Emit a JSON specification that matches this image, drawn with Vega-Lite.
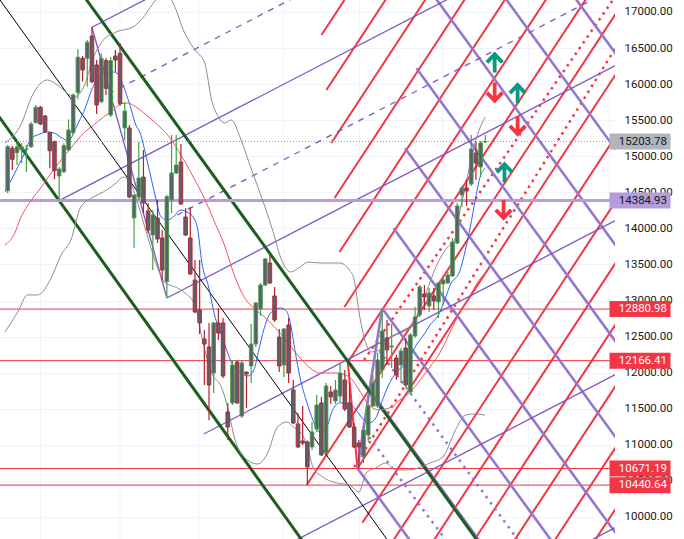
{
"$schema":"https://vega.github.io/schema/vega-lite/v6.json",
"width":615,"height":539,
"autosize":{"type":"none"},
"padding":{"left":0,"top":0,"right":69,"bottom":0},
"background":"#ffffff",
"config":{"view":{"stroke":null},"axisY":{"orient":"right"}},
"datasets":{
"candles":[
{"t":0,"o":14522,"h":15156,"l":14486,"c":15132},{"t":1,"o":15110,"h":15142,"l":14809,"c":14958},{"t":2,"o":15049,"h":15188,"l":14879,"c":15132},{"t":3,"o":15087,"h":15184,"l":14906,"c":15128},{"t":4,"o":15094,"h":15156,"l":14782,"c":15101},{"t":5,"o":15132,"h":15479,"l":15114,"c":15447},{"t":6,"o":15465,"h":15710,"l":15457,"c":15679},{"t":7,"o":15679,"h":15697,"l":15433,"c":15447},{"t":8,"o":15558,"h":15572,"l":15322,"c":15340},{"t":9,"o":15326,"h":15340,"l":14833,"c":15077},
{"t":10,"o":15202,"h":15216,"l":14680,"c":14800},{"t":11,"o":14726,"h":14855,"l":14385,"c":14823},{"t":12,"o":14786,"h":15180,"l":14764,"c":15146},{"t":13,"o":15087,"h":15512,"l":15077,"c":15364},{"t":14,"o":15326,"h":15873,"l":15295,"c":15849},{"t":15,"o":15881,"h":16483,"l":15790,"c":16372},{"t":16,"o":16358,"h":16390,"l":16033,"c":16196},{"t":17,"o":16358,"h":16611,"l":15964,"c":16580},{"t":18,"o":16667,"h":16788,"l":16011,"c":16033},{"t":19,"o":16265,"h":16334,"l":15586,"c":15710},
{"t":20,"o":15756,"h":16427,"l":15734,"c":16358},{"t":21,"o":16325,"h":16358,"l":15849,"c":15942},{"t":22,"o":15572,"h":16376,"l":15544,"c":16325},{"t":23,"o":16390,"h":16473,"l":16172,"c":16334},{"t":24,"o":16427,"h":16566,"l":15697,"c":15734},{"t":25,"o":15392,"h":15752,"l":15225,"c":15627},{"t":26,"o":15392,"h":15433,"l":14417,"c":14435},{"t":27,"o":14144,"h":14463,"l":13728,"c":14463},{"t":28,"o":14435,"h":15198,"l":14394,"c":14699},{"t":29,"o":14712,"h":15087,"l":14213,"c":14352},
{"t":30,"o":14241,"h":14352,"l":13936,"c":13978},{"t":31,"o":13908,"h":14255,"l":13423,"c":14186},{"t":32,"o":14144,"h":14394,"l":13797,"c":13853},{"t":33,"o":13867,"h":13978,"l":13285,"c":13423},{"t":34,"o":13261,"h":14463,"l":13035,"c":14439},{"t":35,"o":14394,"h":15295,"l":14213,"c":14768},{"t":36,"o":14768,"h":15295,"l":14754,"c":14879},{"t":37,"o":14920,"h":15170,"l":14324,"c":14338},{"t":38,"o":14158,"h":14283,"l":13895,"c":13908},{"t":39,"o":13867,"h":14297,"l":13354,"c":13368},
{"t":40,"o":13285,"h":13562,"l":12827,"c":12841},{"t":41,"o":12869,"h":13562,"l":12536,"c":12689},{"t":42,"o":12467,"h":12592,"l":11829,"c":12397},{"t":43,"o":12356,"h":12689,"l":11344,"c":11829},{"t":44,"o":11996,"h":12703,"l":11718,"c":12689},{"t":45,"o":12689,"h":12896,"l":12453,"c":12550},{"t":46,"o":12689,"h":12758,"l":11926,"c":11954},{"t":47,"o":11455,"h":11580,"l":11067,"c":11247},{"t":48,"o":11580,"h":12176,"l":11552,"c":12106},{"t":49,"o":12148,"h":12166,"l":11566,"c":11580},
{"t":50,"o":11399,"h":12176,"l":11372,"c":12134},{"t":51,"o":12009,"h":12015,"l":11510,"c":11981},{"t":52,"o":12092,"h":12675,"l":11857,"c":12397},{"t":53,"o":12397,"h":12980,"l":12356,"c":12966},{"t":54,"o":12883,"h":13243,"l":12786,"c":13215},{"t":55,"o":13215,"h":13590,"l":13201,"c":13576},{"t":56,"o":13520,"h":13631,"l":13229,"c":13243},{"t":57,"o":13063,"h":13188,"l":12703,"c":12730},{"t":58,"o":12494,"h":12606,"l":12009,"c":12092},{"t":59,"o":12106,"h":12620,"l":11940,"c":12606},
{"t":60,"o":12661,"h":12758,"l":11857,"c":11995},{"t":61,"o":11760,"h":11898,"l":11289,"c":11302},{"t":62,"o":11289,"h":11441,"l":10956,"c":10970},{"t":63,"o":11053,"h":11538,"l":10997,"c":11025},{"t":64,"o":11039,"h":11060,"l":10441,"c":10692},{"t":65,"o":10970,"h":11316,"l":10929,"c":11178},{"t":66,"o":11219,"h":11690,"l":11178,"c":11552},{"t":67,"o":11580,"h":11663,"l":10845,"c":10859},{"t":68,"o":10886,"h":11857,"l":10873,"c":11815},{"t":69,"o":11732,"h":11815,"l":11566,"c":11663},
{"t":70,"o":11607,"h":11898,"l":11566,"c":11760},{"t":71,"o":11677,"h":12134,"l":11593,"c":11995},{"t":72,"o":11898,"h":12037,"l":11469,"c":11496},{"t":73,"o":11580,"h":11857,"l":11233,"c":11247},{"t":74,"o":11247,"h":11302,"l":10956,"c":10970},{"t":75,"o":11025,"h":11067,"l":10671,"c":10970},{"t":76,"o":10831,"h":11275,"l":10748,"c":11206},{"t":77,"o":11136,"h":11552,"l":11053,"c":11538},{"t":78,"o":11538,"h":11968,"l":11524,"c":11857},{"t":79,"o":11538,"h":12273,"l":11510,"c":12176},
{"t":80,"o":12037,"h":12881,"l":11926,"c":12578},{"t":81,"o":12481,"h":12730,"l":12106,"c":12315},{"t":82,"o":12356,"h":12675,"l":12065,"c":12370},{"t":83,"o":12203,"h":12245,"l":11898,"c":11968},{"t":84,"o":12106,"h":12342,"l":11857,"c":12301},{"t":85,"o":12342,"h":12481,"l":11801,"c":11829},{"t":86,"o":11732,"h":12550,"l":11718,"c":12522},{"t":87,"o":12509,"h":12910,"l":12481,"c":12772},{"t":88,"o":12800,"h":13215,"l":12772,"c":13188},{"t":89,"o":13091,"h":13215,"l":12869,"c":13049},
{"t":90,"o":12924,"h":13174,"l":12841,"c":13105},{"t":91,"o":13063,"h":13174,"l":12869,"c":12994},{"t":92,"o":12980,"h":13257,"l":12758,"c":13243},{"t":93,"o":13229,"h":13312,"l":12938,"c":13285},{"t":94,"o":13243,"h":13396,"l":13229,"c":13354},{"t":95,"o":13340,"h":13867,"l":13326,"c":13811},{"t":96,"o":13797,"h":14352,"l":13784,"c":14310},{"t":97,"o":14463,"h":14588,"l":14297,"c":14560},{"t":98,"o":14560,"h":14685,"l":14310,"c":14519},{"t":99,"o":14616,"h":15295,"l":14588,"c":15101},
{"t":100,"o":15045,"h":15198,"l":14671,"c":14906},{"t":101,"o":14851,"h":15212,"l":14713,"c":15184},{"t":102,"o":15198,"h":15295,"l":15184,"c":15203.78}
],
"ma":[
{"s":"blue","t":-0.57,"p":14505},{"s":"blue","t":1.53,"p":14768},{"s":"blue","t":3.63,"p":15045},{"s":"blue","t":5.1,"p":15253},{"s":"blue","t":6.37,"p":15295},{"s":"blue","t":8.47,"p":15336},{"s":"blue","t":9.94,"p":15322},{"s":"blue","t":11.62,"p":15253},{"s":"blue","t":13.09,"p":15211},{"s":"blue","t":14.14,"p":15336},{"s":"blue","t":15.19,"p":15475},{"s":"blue","t":16.66,"p":15683},{"s":"blue","t":17.92,"p":15918},{"s":"blue","t":19.39,"p":16085},{"s":"blue","t":20.44,"p":16154},{"s":"blue","t":22.54,"p":16168},{"s":"blue","t":23.59,"p":16140},{"s":"blue","t":24.64,"p":15988},{"s":"blue","t":26.11,"p":15710},{"s":"blue","t":27.37,"p":15433},{"s":"blue","t":28.21,"p":15336},{"s":"blue","t":29.89,"p":14906},{"s":"blue","t":31.57,"p":14435},{"s":"blue","t":32.63,"p":14172},{"s":"blue","t":34.1,"p":14116},{"s":"blue","t":35.57,"p":14172},{"s":"blue","t":36.83,"p":14255},{"s":"blue","t":38.3,"p":14227},{"s":"blue","t":39.77,"p":14144},{"s":"blue","t":40.61,"p":13978},{"s":"blue","t":41.45,"p":13534},{"s":"blue","t":42.92,"p":13188},{"s":"blue","t":44.18,"p":12800},{"s":"blue","t":45.65,"p":12522},{"s":"blue","t":46.91,"p":12287},{"s":"blue","t":48.38,"p":12065},{"s":"blue","t":49.85,"p":11995},{"s":"blue","t":51.32,"p":11954},{"s":"blue","t":52.58,"p":12037},{"s":"blue","t":53.63,"p":12315},{"s":"blue","t":54.68,"p":12592},{"s":"blue","t":56.15,"p":12827},{"s":"blue","t":58.25,"p":12897},{"s":"blue","t":59.52,"p":12855},{"s":"blue","t":60.36,"p":12689},{"s":"blue","t":61.41,"p":12287},{"s":"blue","t":62.46,"p":11926},{"s":"blue","t":63.93,"p":11580},{"s":"blue","t":65.19,"p":11344},{"s":"blue","t":66.66,"p":11178},{"s":"blue","t":68.13,"p":11247},{"s":"blue","t":69.39,"p":11483},{"s":"blue","t":70.86,"p":11580},{"s":"blue","t":72.54,"p":11580},{"s":"blue","t":74.43,"p":11483},{"s":"blue","t":75.69,"p":11372},{"s":"blue","t":77.16,"p":11302},{"s":"blue","t":78.63,"p":11372},{"s":"blue","t":79.89,"p":11594},{"s":"blue","t":81.36,"p":11829},{"s":"blue","t":83.05,"p":12009},{"s":"blue","t":85.15,"p":12134},{"s":"blue","t":87.25,"p":12384},{"s":"blue","t":89.14,"p":12550},{"s":"blue","t":90.19,"p":12661},{"s":"blue","t":91.87,"p":12786},{"s":"blue","t":93.34,"p":13008},{"s":"blue","t":94.6,"p":13229},{"s":"blue","t":96.49,"p":13396},{"s":"blue","t":97.75,"p":13701},{"s":"blue","t":98.8,"p":14019},{"s":"blue","t":99.85,"p":14394},{"s":"blue","t":100.9,"p":14713},{"s":"blue","t":101.95,"p":14837},
{"s":"basis","t":-0.57,"p":13770},{"s":"basis","t":1.53,"p":13936},{"s":"basis","t":2.58,"p":14116},{"s":"basis","t":5.1,"p":14394},{"s":"basis","t":7.21,"p":14574},{"s":"basis","t":9.31,"p":14768},{"s":"basis","t":11.41,"p":14948},{"s":"basis","t":13.51,"p":15114},{"s":"basis","t":16.24,"p":15322},{"s":"basis","t":18.34,"p":15433},{"s":"basis","t":20.44,"p":15544},{"s":"basis","t":22.54,"p":15641},{"s":"basis","t":24.01,"p":15724},{"s":"basis","t":25.69,"p":15738},{"s":"basis","t":26.74,"p":15710},{"s":"basis","t":28.84,"p":15613},{"s":"basis","t":31.57,"p":15461},{"s":"basis","t":34.52,"p":15267},{"s":"basis","t":37.25,"p":14990},{"s":"basis","t":39.98,"p":14671},{"s":"basis","t":41.45,"p":14491},{"s":"basis","t":42.92,"p":14283},{"s":"basis","t":44.18,"p":14089},{"s":"basis","t":46.28,"p":13770},{"s":"basis","t":48.38,"p":13354},{"s":"basis","t":50.9,"p":13008},{"s":"basis","t":52.58,"p":12897},{"s":"basis","t":55.52,"p":12730},{"s":"basis","t":58.88,"p":12494},{"s":"basis","t":62.46,"p":12203},{"s":"basis","t":64.56,"p":12065},{"s":"basis","t":66.66,"p":11995},{"s":"basis","t":70.23,"p":11995},{"s":"basis","t":72.96,"p":11940},{"s":"basis","t":75.06,"p":11760},{"s":"basis","t":77.16,"p":11552},{"s":"basis","t":79.26,"p":11483},{"s":"basis","t":81.99,"p":11524},{"s":"basis","t":83.47,"p":11607},{"s":"basis","t":85.99,"p":11732},{"s":"basis","t":88.09,"p":11898},{"s":"basis","t":90.19,"p":12079},{"s":"basis","t":92.29,"p":12273},{"s":"basis","t":94.39,"p":12550},{"s":"basis","t":96.49,"p":12827},{"s":"basis","t":98.59,"p":13049},{"s":"basis","t":100.27,"p":13243},{"s":"basis","t":101.95,"p":13382},
{"s":"upper","t":-0.57,"p":15184},{"s":"upper","t":3.0,"p":15461},{"s":"upper","t":5.1,"p":15821},{"s":"upper","t":6.37,"p":15960},{"s":"upper","t":8.47,"p":16057},{"s":"upper","t":10.57,"p":15988},{"s":"upper","t":12.67,"p":15877},{"s":"upper","t":14.14,"p":15821},{"s":"upper","t":16.24,"p":15960},{"s":"upper","t":18.34,"p":16376},{"s":"upper","t":20.44,"p":16611},{"s":"upper","t":23.17,"p":16722},{"s":"upper","t":26.74,"p":16792},{"s":"upper","t":28.84,"p":16916},{"s":"upper","t":30.52,"p":17069},{"s":"upper","t":31.99,"p":17194},{"s":"upper","t":33.46,"p":17249},{"s":"upper","t":34.73,"p":17194},{"s":"upper","t":35.99,"p":17027},{"s":"upper","t":37.25,"p":16792},{"s":"upper","t":39.98,"p":16473},{"s":"upper","t":42.08,"p":16293},{"s":"upper","t":43.55,"p":15780},{"s":"upper","t":45.02,"p":15544},{"s":"upper","t":46.28,"p":15461},{"s":"upper","t":47.75,"p":15503},{"s":"upper","t":49.85,"p":15225},{"s":"upper","t":51.95,"p":14837},{"s":"upper","t":54.05,"p":14463},{"s":"upper","t":56.57,"p":13978},{"s":"upper","t":58.25,"p":13604},{"s":"upper","t":60.36,"p":13396},{"s":"upper","t":62.46,"p":13465},{"s":"upper","t":64.14,"p":13534},{"s":"upper","t":66.66,"p":13520},{"s":"upper","t":70.86,"p":13520},{"s":"upper","t":72.96,"p":13423},{"s":"upper","t":74.01,"p":13285},{"s":"upper","t":75.06,"p":12827},{"s":"upper","t":76.11,"p":12494},{"s":"upper","t":77.58,"p":12287},{"s":"upper","t":79.26,"p":12315},{"s":"upper","t":81.78,"p":12494},{"s":"upper","t":83.89,"p":12550},{"s":"upper","t":85.99,"p":12633},{"s":"upper","t":87.67,"p":12827},{"s":"upper","t":89.35,"p":13104},{"s":"upper","t":91.45,"p":13465},{"s":"upper","t":93.97,"p":13742},{"s":"upper","t":95.44,"p":13839},{"s":"upper","t":96.49,"p":14213},{"s":"upper","t":97.75,"p":14574},{"s":"upper","t":99.22,"p":15045},{"s":"upper","t":100.69,"p":15364},{"s":"upper","t":101.95,"p":15544},
{"s":"lower","t":-0.57,"p":12564},{"s":"lower","t":2.16,"p":12841},{"s":"lower","t":4.26,"p":13077},{"s":"lower","t":6.37,"p":13077},{"s":"lower","t":9.31,"p":13312},{"s":"lower","t":11.41,"p":13631},{"s":"lower","t":13.51,"p":13839},{"s":"lower","t":15.61,"p":14297},{"s":"lower","t":18.34,"p":14435},{"s":"lower","t":20.44,"p":14505},{"s":"lower","t":23.17,"p":14629},{"s":"lower","t":24.64,"p":14712},{"s":"lower","t":26.11,"p":14643},{"s":"lower","t":27.37,"p":14435},{"s":"lower","t":29.47,"p":13978},{"s":"lower","t":31.57,"p":13534},{"s":"lower","t":33.67,"p":13243},{"s":"lower","t":35.78,"p":13188},{"s":"lower","t":37.88,"p":13104},{"s":"lower","t":39.98,"p":12938},{"s":"lower","t":41.45,"p":12495},{"s":"lower","t":43.55,"p":11995},{"s":"lower","t":45.65,"p":11801},{"s":"lower","t":47.12,"p":11483},{"s":"lower","t":48.38,"p":11108},{"s":"lower","t":50.48,"p":10831},{"s":"lower","t":53.42,"p":10734},{"s":"lower","t":55.52,"p":10887},{"s":"lower","t":57.62,"p":11247},{"s":"lower","t":59.72,"p":11316},{"s":"lower","t":60.98,"p":11247},{"s":"lower","t":62.46,"p":11178},{"s":"lower","t":63.93,"p":10998},{"s":"lower","t":65.19,"p":10692},{"s":"lower","t":67.29,"p":10554},{"s":"lower","t":70.23,"p":10471},{"s":"lower","t":72.96,"p":10443},{"s":"lower","t":75.06,"p":10346},{"s":"lower","t":76.53,"p":10609},{"s":"lower","t":78.63,"p":10679},{"s":"lower","t":80.73,"p":10748},{"s":"lower","t":82.84,"p":10651},{"s":"lower","t":85.57,"p":10651},{"s":"lower","t":90.19,"p":10748},{"s":"lower","t":92.92,"p":10831},{"s":"lower","t":95.65,"p":11206},{"s":"lower","t":97.75,"p":11413},{"s":"lower","t":99.85,"p":11427},{"s":"lower","t":101.95,"p":11413}
],
"segs":[
{"k":"black","t1":-5,"p1":17470,"t2":85,"p2":9328},
{"k":"green","t1":10,"p1":17783,"t2":105,"p2":9250},
{"k":"green","t1":-5,"p1":15835,"t2":66,"p2":9392},
{"k":"pthin","t1":18,"p1":16788,"t2":40,"p2":17528},
{"k":"pthin","t1":11,"p1":14385,"t2":130,"p2":18389},
{"k":"pthin","t1":34,"p1":13035,"t2":130,"p2":16265},
{"k":"pthin","t1":41.87,"p1":11150,"t2":130,"p2":14116},
{"k":"pthin","t1":50,"p1":9289,"t2":130,"p2":11981},
{"k":"pthin","t1":115,"p1":9355,"t2":130,"p2":9859},
{"k":"pthin","t1":18,"p1":16788,"t2":34,"p2":13035},
{"k":"pdash","t1":21.49,"p1":15863,"t2":70,"p2":17495},
{"k":"pdash","t1":36.2,"p1":14186,"t2":136,"p2":17544},
{"k":"pthick","t1":87.31,"p1":16219,"t2":135,"p2":11971},
{"k":"pthick","t1":84.87,"p1":15110,"t2":135,"p2":10644},
{"k":"pthick","t1":82.42,"p1":14001,"t2":135,"p2":9317},
{"k":"pthick","t1":79.96,"p1":12892,"t2":130,"p2":8434},
{"k":"pthick","t1":72.6,"p1":12176,"t2":130,"p2":7063},
{"k":"pthick","t1":74.7,"p1":10674,"t2":110,"p2":7530},
{"k":"pthick","t1":85,"p1":17759,"t2":135,"p2":13305},
{"k":"pthick","t1":100,"p1":17751,"t2":135,"p2":14633},
{"k":"pthick","t1":115,"p1":17744,"t2":135,"p2":15963},
{"k":"pthick","t1":74.7,"p1":10674,"t2":79.96,"p2":12892},
{"k":"pdot","t1":77.16,"p1":11108,"t2":96,"p2":9468},
{"k":"pdot","t1":78.42,"p1":12384,"t2":112,"p2":9414},
{"k":"red","t1":67.02,"p1":16681,"t2":75,"p2":17471},
{"k":"red","t1":68.07,"p1":15918,"t2":85,"p2":17594},
{"k":"red","t1":69.12,"p1":15184,"t2":95,"p2":17746},
{"k":"red","t1":69.81,"p1":14421,"t2":103,"p2":17707},
{"k":"red","t1":70.86,"p1":13673,"t2":112,"p2":17746},
{"k":"red","t1":71.91,"p1":12910,"t2":121,"p2":17770},
{"k":"red","t1":72.96,"p1":12176,"t2":130,"p2":17823},
{"k":"red","t1":63.87,"p1":10443,"t2":140,"p2":17980},
{"k":"red","t1":74.7,"p1":10674,"t2":145,"p2":17634},
{"k":"red","t1":75.75,"p1":9920,"t2":150,"p2":17271},
{"k":"red","t1":80.5,"p1":9490,"t2":140,"p2":15381},
{"k":"red","t1":89.2,"p1":9498,"t2":140,"p2":14527},
{"k":"red","t1":97.8,"p1":9497,"t2":140,"p2":13675},
{"k":"red","t1":106.4,"p1":9496,"t2":140,"p2":12822},
{"k":"red","t1":115,"p1":9496,"t2":140,"p2":11971},
{"k":"red","t1":123.6,"p1":9496,"t2":140,"p2":11120},
{"k":"red","t1":72.6,"p1":12176,"t2":74.7,"p2":10674},
{"k":"rdot","t1":76.11,"p1":12176,"t2":129.7,"p2":17208},
{"k":"rdot","t1":74.01,"p1":10693,"t2":135,"p2":17038}
],
"levels":[
{"k":"last","p":15203.78,"label":"15203.78"},
{"k":"pur","p":14384.93,"label":"14384.93"},
{"k":"red","p":12880.98,"label":"12880.98"},
{"k":"red","p":12166.41,"label":"12166.41"},
{"k":"red","p":10671.19,"label":"10671.19"},
{"k":"red","p":10440.64,"label":"10440.64"}
],
"vgrid":[{"t":7.0},{"t":24.0},{"t":40.8},{"t":58.9},{"t":75.1},{"t":92.9},{"t":111.2},{"t":128.5}],
"arrows":[
{"dir":"up","t":104.0,"p":16288},{"dir":"down","t":104.0,"p":15895},
{"dir":"up","t":108.9,"p":15863},{"dir":"down","t":108.9,"p":15433},
{"dir":"up","t":106.1,"p":14764},{"dir":"down","t":105.9,"p":14269}
]
},
"layer":[
{"data":{"name":"vgrid"},"mark":{"type":"rule","color":"#f0f3fa","strokeWidth":1},
 "encoding":{"x":{"field":"t","type":"quantitative","scale":{"domain":[-0.567,128.63],"nice":false,"zero":false},"axis":null}}},
{"data":{"name":"levels"},"transform":[{"filter":"datum.k == 'red'"}],"mark":{"type":"rule","color":"#f23645","strokeWidth":1},
 "encoding":{"y":{"field":"p","type":"quantitative","scale":{"domain":[9694,17166],"nice":false,"zero":false},
  "axis":{"orient":"right","values":[10000,10500,11000,11500,12000,12500,13000,13500,14000,14500,15000,15500,16000,16500,17000],"format":".2f","grid":true,"gridColor":"#f0f3fa","gridWidth":1,"ticks":false,"domain":false,"labelPadding":9,"labelFont":"Roboto","labelFontSize":11.5,"labelColor":"#131722","title":null,"labelAlign":"left","labelBaseline":"middle"}}}},
{"data":{"name":"segs"},"transform":[{"filter":"datum.k == 'red'"}],"mark":{"type":"rule","color":"#f23645","strokeWidth":2,"clip":true},
 "encoding":{"x":{"field":"t1","type":"quantitative","scale":{"domain":[-0.567,128.63],"nice":false,"zero":false},"axis":null},"x2":{"field":"t2"},
  "y":{"field":"p1","type":"quantitative","scale":{"domain":[9694,17166],"nice":false,"zero":false},"axis":{"orient":"right","values":[10000,10500,11000,11500,12000,12500,13000,13500,14000,14500,15000,15500,16000,16500,17000],"format":".2f","grid":true,"gridColor":"#f0f3fa","gridWidth":1,"ticks":false,"domain":false,"labelPadding":9,"labelFont":"Roboto","labelFontSize":11.5,"labelColor":"#131722","title":null,"labelAlign":"left","labelBaseline":"middle"}},"y2":{"field":"p2"}}},
{"data":{"name":"segs"},"transform":[{"filter":"datum.k == 'rdot'"}],"mark":{"type":"rule","color":"#f23645","strokeWidth":2.5,"strokeDash":[2.5,4.5],"clip":true},
 "encoding":{"x":{"field":"t1","type":"quantitative","scale":{"domain":[-0.567,128.63],"nice":false,"zero":false},"axis":null},"x2":{"field":"t2"},
  "y":{"field":"p1","type":"quantitative","scale":{"domain":[9694,17166],"nice":false,"zero":false},"axis":{"orient":"right","values":[10000,10500,11000,11500,12000,12500,13000,13500,14000,14500,15000,15500,16000,16500,17000],"format":".2f","grid":true,"gridColor":"#f0f3fa","gridWidth":1,"ticks":false,"domain":false,"labelPadding":9,"labelFont":"Roboto","labelFontSize":11.5,"labelColor":"#131722","title":null,"labelAlign":"left","labelBaseline":"middle"}},"y2":{"field":"p2"}}},
{"data":{"name":"segs"},"transform":[{"filter":"datum.k == 'pthick'"}],"mark":{"type":"rule","color":"#9575cd","strokeWidth":2.6,"clip":true},
 "encoding":{"x":{"field":"t1","type":"quantitative","scale":{"domain":[-0.567,128.63],"nice":false,"zero":false},"axis":null},"x2":{"field":"t2"},
  "y":{"field":"p1","type":"quantitative","scale":{"domain":[9694,17166],"nice":false,"zero":false},"axis":{"orient":"right","values":[10000,10500,11000,11500,12000,12500,13000,13500,14000,14500,15000,15500,16000,16500,17000],"format":".2f","grid":true,"gridColor":"#f0f3fa","gridWidth":1,"ticks":false,"domain":false,"labelPadding":9,"labelFont":"Roboto","labelFontSize":11.5,"labelColor":"#131722","title":null,"labelAlign":"left","labelBaseline":"middle"}},"y2":{"field":"p2"}}},
{"data":{"name":"segs"},"transform":[{"filter":"datum.k == 'pdot'"}],"mark":{"type":"rule","color":"#9575cd","strokeWidth":2.5,"strokeDash":[2.5,5],"clip":true},
 "encoding":{"x":{"field":"t1","type":"quantitative","scale":{"domain":[-0.567,128.63],"nice":false,"zero":false},"axis":null},"x2":{"field":"t2"},
  "y":{"field":"p1","type":"quantitative","scale":{"domain":[9694,17166],"nice":false,"zero":false},"axis":{"orient":"right","values":[10000,10500,11000,11500,12000,12500,13000,13500,14000,14500,15000,15500,16000,16500,17000],"format":".2f","grid":true,"gridColor":"#f0f3fa","gridWidth":1,"ticks":false,"domain":false,"labelPadding":9,"labelFont":"Roboto","labelFontSize":11.5,"labelColor":"#131722","title":null,"labelAlign":"left","labelBaseline":"middle"}},"y2":{"field":"p2"}}},
{"data":{"name":"segs"},"transform":[{"filter":"datum.k == 'pthin'"}],"mark":{"type":"rule","color":"#7e57c2","strokeWidth":1.3,"clip":true},
 "encoding":{"x":{"field":"t1","type":"quantitative","scale":{"domain":[-0.567,128.63],"nice":false,"zero":false},"axis":null},"x2":{"field":"t2"},
  "y":{"field":"p1","type":"quantitative","scale":{"domain":[9694,17166],"nice":false,"zero":false},"axis":{"orient":"right","values":[10000,10500,11000,11500,12000,12500,13000,13500,14000,14500,15000,15500,16000,16500,17000],"format":".2f","grid":true,"gridColor":"#f0f3fa","gridWidth":1,"ticks":false,"domain":false,"labelPadding":9,"labelFont":"Roboto","labelFontSize":11.5,"labelColor":"#131722","title":null,"labelAlign":"left","labelBaseline":"middle"}},"y2":{"field":"p2"}}},
{"data":{"name":"segs"},"transform":[{"filter":"datum.k == 'pdash'"}],"mark":{"type":"rule","color":"#7e57c2","strokeWidth":1.3,"strokeDash":[6,6],"clip":true},
 "encoding":{"x":{"field":"t1","type":"quantitative","scale":{"domain":[-0.567,128.63],"nice":false,"zero":false},"axis":null},"x2":{"field":"t2"},
  "y":{"field":"p1","type":"quantitative","scale":{"domain":[9694,17166],"nice":false,"zero":false},"axis":{"orient":"right","values":[10000,10500,11000,11500,12000,12500,13000,13500,14000,14500,15000,15500,16000,16500,17000],"format":".2f","grid":true,"gridColor":"#f0f3fa","gridWidth":1,"ticks":false,"domain":false,"labelPadding":9,"labelFont":"Roboto","labelFontSize":11.5,"labelColor":"#131722","title":null,"labelAlign":"left","labelBaseline":"middle"}},"y2":{"field":"p2"}}},
{"data":{"name":"segs"},"transform":[{"filter":"datum.k == 'green'"}],"mark":{"type":"rule","color":"#1b5e20","strokeWidth":3,"clip":true},
 "encoding":{"x":{"field":"t1","type":"quantitative","scale":{"domain":[-0.567,128.63],"nice":false,"zero":false},"axis":null},"x2":{"field":"t2"},
  "y":{"field":"p1","type":"quantitative","scale":{"domain":[9694,17166],"nice":false,"zero":false},"axis":{"orient":"right","values":[10000,10500,11000,11500,12000,12500,13000,13500,14000,14500,15000,15500,16000,16500,17000],"format":".2f","grid":true,"gridColor":"#f0f3fa","gridWidth":1,"ticks":false,"domain":false,"labelPadding":9,"labelFont":"Roboto","labelFontSize":11.5,"labelColor":"#131722","title":null,"labelAlign":"left","labelBaseline":"middle"}},"y2":{"field":"p2"}}},
{"data":{"name":"segs"},"transform":[{"filter":"datum.k == 'black'"}],"mark":{"type":"rule","color":"#000000","strokeWidth":1,"clip":true},
 "encoding":{"x":{"field":"t1","type":"quantitative","scale":{"domain":[-0.567,128.63],"nice":false,"zero":false},"axis":null},"x2":{"field":"t2"},
  "y":{"field":"p1","type":"quantitative","scale":{"domain":[9694,17166],"nice":false,"zero":false},"axis":{"orient":"right","values":[10000,10500,11000,11500,12000,12500,13000,13500,14000,14500,15000,15500,16000,16500,17000],"format":".2f","grid":true,"gridColor":"#f0f3fa","gridWidth":1,"ticks":false,"domain":false,"labelPadding":9,"labelFont":"Roboto","labelFontSize":11.5,"labelColor":"#131722","title":null,"labelAlign":"left","labelBaseline":"middle"}},"y2":{"field":"p2"}}},
{"data":{"name":"levels"},"transform":[{"filter":"datum.k == 'pur'"}],"mark":{"type":"rule","color":"#b39ddb","strokeWidth":3},
 "encoding":{"y":{"field":"p","type":"quantitative","scale":{"domain":[9694,17166],"nice":false,"zero":false},"axis":{"orient":"right","values":[10000,10500,11000,11500,12000,12500,13000,13500,14000,14500,15000,15500,16000,16500,17000],"format":".2f","grid":true,"gridColor":"#f0f3fa","gridWidth":1,"ticks":false,"domain":false,"labelPadding":9,"labelFont":"Roboto","labelFontSize":11.5,"labelColor":"#131722","title":null,"labelAlign":"left","labelBaseline":"middle"}}}},
{"data":{"name":"levels"},"transform":[{"filter":"datum.k == 'last'"}],"mark":{"type":"rule","color":"#9598a1","strokeWidth":1,"strokeDash":[1,2]},
 "encoding":{"y":{"field":"p","type":"quantitative","scale":{"domain":[9694,17166],"nice":false,"zero":false},"axis":{"orient":"right","values":[10000,10500,11000,11500,12000,12500,13000,13500,14000,14500,15000,15500,16000,16500,17000],"format":".2f","grid":true,"gridColor":"#f0f3fa","gridWidth":1,"ticks":false,"domain":false,"labelPadding":9,"labelFont":"Roboto","labelFontSize":11.5,"labelColor":"#131722","title":null,"labelAlign":"left","labelBaseline":"middle"}}}},
{"data":{"name":"ma"},"mark":{"type":"line","strokeWidth":1,"clip":true,"interpolate":"monotone"},
 "encoding":{"x":{"field":"t","type":"quantitative","scale":{"domain":[-0.567,128.63],"nice":false,"zero":false},"axis":null},
  "y":{"field":"p","type":"quantitative","scale":{"domain":[9694,17166],"nice":false,"zero":false},"axis":{"orient":"right","values":[10000,10500,11000,11500,12000,12500,13000,13500,14000,14500,15000,15500,16000,16500,17000],"format":".2f","grid":true,"gridColor":"#f0f3fa","gridWidth":1,"ticks":false,"domain":false,"labelPadding":9,"labelFont":"Roboto","labelFontSize":11.5,"labelColor":"#131722","title":null,"labelAlign":"left","labelBaseline":"middle"}},
  "stroke":{"field":"s","type":"nominal","scale":{"domain":["blue","basis","upper","lower"],"range":["#2962ff","#f7525f","#8d8d8d","#8d8d8d"]},"legend":null}}},
{"data":{"name":"candles"},"mark":{"type":"rule","strokeWidth":1.2},
 "encoding":{"x":{"field":"t","type":"quantitative","scale":{"domain":[-0.567,128.63],"nice":false,"zero":false},"axis":null},
  "y":{"field":"l","type":"quantitative","scale":{"domain":[9694,17166],"nice":false,"zero":false},"axis":{"orient":"right","values":[10000,10500,11000,11500,12000,12500,13000,13500,14000,14500,15000,15500,16000,16500,17000],"format":".2f","grid":true,"gridColor":"#f0f3fa","gridWidth":1,"ticks":false,"domain":false,"labelPadding":9,"labelFont":"Roboto","labelFontSize":11.5,"labelColor":"#131722","title":null,"labelAlign":"left","labelBaseline":"middle"}},"y2":{"field":"h"},
  "color":{"condition":{"test":"datum.c >= datum.o","value":"#43a047"},"value":"#b2202e"}}},
{"data":{"name":"candles"},"mark":{"type":"bar","width":3.6,"fill":"#5d606b","strokeWidth":0.9},
 "encoding":{"x":{"field":"t","type":"quantitative","scale":{"domain":[-0.567,128.63],"nice":false,"zero":false},"axis":null},
  "y":{"field":"o","type":"quantitative","scale":{"domain":[9694,17166],"nice":false,"zero":false},"axis":{"orient":"right","values":[10000,10500,11000,11500,12000,12500,13000,13500,14000,14500,15000,15500,16000,16500,17000],"format":".2f","grid":true,"gridColor":"#f0f3fa","gridWidth":1,"ticks":false,"domain":false,"labelPadding":9,"labelFont":"Roboto","labelFontSize":11.5,"labelColor":"#131722","title":null,"labelAlign":"left","labelBaseline":"middle"}},"y2":{"field":"c"},
  "stroke":{"condition":{"test":"datum.c >= datum.o","value":"#43a047"},"value":"#b2202e"}}},
{"data":{"name":"arrows"},"transform":[{"filter":"datum.dir == 'up'"}],"mark":{"type":"point","shape":"M0,1L0,-1M-0.85,-0.1L0,-1L0.85,-0.1","filled":false,"strokeWidth":3.8,"size":330,"color":"#089981","opacity":1},
 "encoding":{"x":{"field":"t","type":"quantitative","scale":{"domain":[-0.567,128.63],"nice":false,"zero":false},"axis":null},
  "y":{"field":"p","type":"quantitative","scale":{"domain":[9694,17166],"nice":false,"zero":false},"axis":{"orient":"right","values":[10000,10500,11000,11500,12000,12500,13000,13500,14000,14500,15000,15500,16000,16500,17000],"format":".2f","grid":true,"gridColor":"#f0f3fa","gridWidth":1,"ticks":false,"domain":false,"labelPadding":9,"labelFont":"Roboto","labelFontSize":11.5,"labelColor":"#131722","title":null,"labelAlign":"left","labelBaseline":"middle"}}}},
{"data":{"name":"arrows"},"transform":[{"filter":"datum.dir == 'down'"}],"mark":{"type":"point","shape":"M0,-1L0,1M-0.85,0.1L0,1L0.85,0.1","filled":false,"strokeWidth":3.8,"size":330,"color":"#f23645","opacity":1},
 "encoding":{"x":{"field":"t","type":"quantitative","scale":{"domain":[-0.567,128.63],"nice":false,"zero":false},"axis":null},
  "y":{"field":"p","type":"quantitative","scale":{"domain":[9694,17166],"nice":false,"zero":false},"axis":{"orient":"right","values":[10000,10500,11000,11500,12000,12500,13000,13500,14000,14500,15000,15500,16000,16500,17000],"format":".2f","grid":true,"gridColor":"#f0f3fa","gridWidth":1,"ticks":false,"domain":false,"labelPadding":9,"labelFont":"Roboto","labelFontSize":11.5,"labelColor":"#131722","title":null,"labelAlign":"left","labelBaseline":"middle"}}}},
{"data":{"name":"levels"},"mark":{"type":"tick","orient":"horizontal","size":61,"thickness":16,"clip":false,"opacity":1},
 "encoding":{"x":{"datum":135.04},
  "y":{"field":"p","type":"quantitative","scale":{"domain":[9694,17166],"nice":false,"zero":false},"axis":{"orient":"right","values":[10000,10500,11000,11500,12000,12500,13000,13500,14000,14500,15000,15500,16000,16500,17000],"format":".2f","grid":true,"gridColor":"#f0f3fa","gridWidth":1,"ticks":false,"domain":false,"labelPadding":9,"labelFont":"Roboto","labelFontSize":11.5,"labelColor":"#131722","title":null,"labelAlign":"left","labelBaseline":"middle"}},
  "fill":{"condition":[{"test":"datum.k == 'red'","value":"#f23645"},{"test":"datum.k == 'pur'","value":"#b39ddb"}],"value":"#b2b5be"}}},
{"data":{"name":"levels"},"mark":{"type":"text","align":"left","baseline":"middle","font":"Roboto","fontSize":11.5,"clip":false},
 "encoding":{"x":{"datum":130.5},
  "y":{"field":"p","type":"quantitative","scale":{"domain":[9694,17166],"nice":false,"zero":false},"axis":{"orient":"right","values":[10000,10500,11000,11500,12000,12500,13000,13500,14000,14500,15000,15500,16000,16500,17000],"format":".2f","grid":true,"gridColor":"#f0f3fa","gridWidth":1,"ticks":false,"domain":false,"labelPadding":9,"labelFont":"Roboto","labelFontSize":11.5,"labelColor":"#131722","title":null,"labelAlign":"left","labelBaseline":"middle"}},
  "text":{"field":"label"},
  "fill":{"condition":{"test":"datum.k == 'red'","value":"#ffffff"},"value":"#131722"}}}
]
}
